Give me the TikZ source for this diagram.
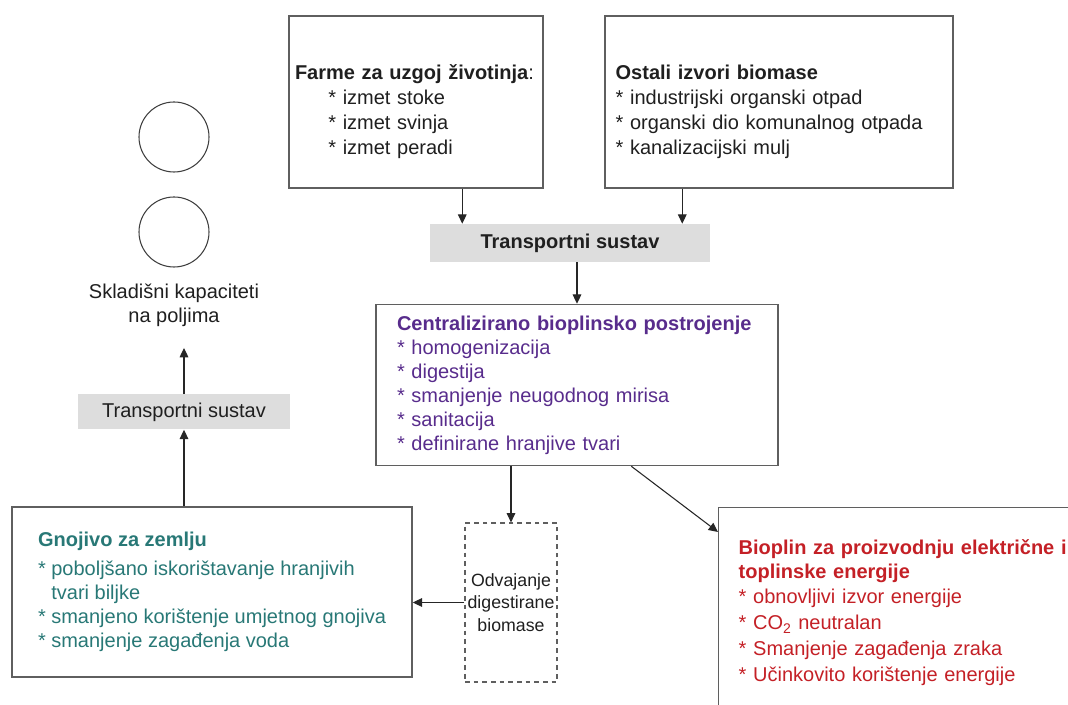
\documentclass[tikz,border=0pt]{standalone}
\usepackage{fontspec}
\setmainfont{Liberation Sans}
\usetikzlibrary{arrows.meta,calc}

\definecolor{boxgray}{RGB}{95,95,95}
\definecolor{bargray}{RGB}{221,221,221}
\definecolor{plantpurple}{RGB}{88,44,140}
\definecolor{soilteal}{RGB}{40,120,118}
\definecolor{gasred}{RGB}{196,32,38}

\newcommand{\bitem}{{*}\space}

\tikzset{
  box/.style={draw=boxgray,line width=1.1pt,align=left,inner ysep=0pt},
  bar/.style={fill=bargray,inner sep=0pt},
  arr/.style={-{Triangle[length=7pt,width=6.5pt]},line width=0.8pt,draw=black!85},
  tank/.style={circle,draw=black!75,line width=0.8pt,minimum size=52.5pt,inner sep=0pt},
}

\begin{document}
\begin{tikzpicture}[x=0.75pt,y=0.75pt,yscale=-1,xscale=1,
  every node/.style={font=\fontsize{15}{18}\selectfont,text=black!88}]
\useasboundingbox (0,0) rectangle (1068,705);
\clip (0,0) rectangle (1068,705);

% sources
\node[box,minimum width=190.5pt,minimum height=129pt,text width=181.5pt,inner xsep=4.5pt,font=\fontsize{15}{18.75}\selectfont] (farme) at (416,102)
  {\rule{0pt}{26pt}\textbf{Farme za uzgoj životinja}:\\
   \hspace*{25pt}\bitem izmet stoke\\
   \hspace*{25pt}\bitem izmet svinja\\
   \hspace*{25pt}\bitem izmet peradi};
\node[box,minimum width=261pt,minimum height=129pt,text width=245pt,inner xsep=8pt,font=\fontsize{15}{18.75}\selectfont] (ostali) at (779,102)
  {\rule{0pt}{26pt}\textbf{Ostali izvori biomase}\\
   \bitem industrijski organski otpad\\
   \bitem organski dio komunalnog otpada\\
   \bitem kanalizacijski mulj};

\node[bar,minimum width=210pt,minimum height=28.5pt] (tr1) at (570,243) {\textbf{Transportni sustav}};

% plant
\node[box,minimum width=301.5pt,minimum height=120.75pt,text width=270pt,inner xsep=15.75pt,text=plantpurple] (central) at (577,385)
  {\textbf{Centralizirano bioplinsko postrojenje}\\
   \bitem homogenizacija\\
   \bitem digestija\\
   \bitem smanjenje neugodnog mirisa\\
   \bitem sanitacija\\
   \bitem definirane hranjive tvari};

% storage
\node[tank] (stor1) at (174,137) {};
\node[tank] (stor2) at (174,232) {};
\node[align=center,inner ysep=16pt] (skl) at (174,305) {Skladišni kapaciteti\\na poljima};
\node[bar,minimum width=159pt,minimum height=26.25pt] (tr2) at (184,412) {Transportni sustav};

% outputs
\node[box,minimum width=300pt,minimum height=127.5pt,text=soilteal] (gnoj) at (212,592)
  {\textbf{Gnojivo za zemlju}\\[4pt]
   \bitem poboljšano iskorištavanje hranjivih\\
   \phantom{*}\space tvari biljke\\
   \bitem smanjeno korištenje umjetnog gnojiva\\
   \bitem smanjenje zagađenja voda};
\node[box,dashed,dash pattern=on 3.5pt off 3pt,line width=0.9pt,minimum width=69pt,minimum height=119.25pt,align=center,inner xsep=0pt,font=\fontsize{13.3}{17}\selectfont] (odv) at (511,602.5)
  {Odvajanje\\digestirane\\biomase};
\node[box,anchor=north west,minimum width=290pt,text width=260pt,inner xsep=15pt,inner ysep=24pt,text=gasred] (bioplin) at (718,507)
  {\textbf{Bioplin za proizvodnju električne i}\\
   \textbf{toplinske energije}\\[1pt]
   \bitem obnovljivi izvor energije\\[1.5pt]
   \bitem CO\textsubscript{2} neutralan\\[1.5pt]
   \bitem Smanjenje zagađenja zraka\\[1.5pt]
   \bitem Učinkovito korištenje energije};

% connectors
\draw[arr] ($(farme.south west)+(174,0)$) coordinate (f1) -- (f1 |- tr1.north);
\draw[arr] ($(ostali.south west)+(78,0)$) coordinate (o1) -- (o1 |- tr1.north);
\draw[arr] ($(tr1.south)+(7,0)$) coordinate (t1) -- (t1 |- central.north);
\draw[arr] (central.south -| odv.north) -- (odv.north);
\draw[arr] ($(central.south west)+(256,0)$) -- ($(bioplin.north west)+(0,25)$);
\draw[arr] (odv.west) -- (odv.west -| gnoj.east);
\draw[arr] (tr2.south |- gnoj.north) -- (tr2.south);
\draw[arr] (tr2.north) -- (tr2.north |- skl.south);
\end{tikzpicture}
\end{document}
